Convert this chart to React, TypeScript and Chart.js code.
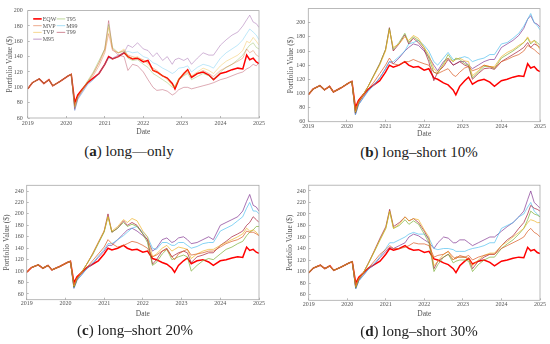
import React, { useEffect, useRef } from 'react';
import { Chart, registerables } from 'chart.js';
Chart.register(...registerables);

// ---- data ----
const DATES = [
  2019.00, 2019.12, 2019.30, 2019.42, 2019.55, 2019.65, 2019.85,
  2020.05, 2020.13, 2020.22, 2020.30, 2020.42, 2020.55, 2020.70, 2020.85,
  2021.00, 2021.10, 2021.20, 2021.35, 2021.50, 2021.60, 2021.72, 2021.85,
  2022.00, 2022.12, 2022.25, 2022.35, 2022.50, 2022.62, 2022.75, 2022.82, 2022.92,
  2023.05, 2023.15, 2023.25, 2023.40, 2023.55, 2023.70, 2023.82,
  2024.00, 2024.15, 2024.30, 2024.45, 2024.58, 2024.68, 2024.76, 2024.85, 2024.93,
  2025.00,
];
const YEAR_TICKS = [2019, 2020, 2021, 2022, 2023, 2024, 2025];
const Y_TICKS_A = [60, 80, 100, 120, 140, 160, 180, 200];
const Y_TICKS_B = [60, 80, 100, 120, 140, 160, 180, 200];
const Y_TICKS_CD = [60, 80, 100, 120, 140, 160, 180, 200, 220, 240];

const EQW = [98, 106, 111, 105, 110, 102, 108, 115, 117, 80, 90, 98, 106, 112, 118, 130, 140, 137, 140, 145, 140, 137, 138, 133, 135, 122, 120, 115, 112, 105, 98, 110, 118, 123, 113, 118, 120, 116, 110, 118, 120, 123, 125, 124, 142, 136, 138, 133, 131];

// (a) long-only
const MVP_A = [98, 106, 111, 105, 110, 102, 108, 115, 117, 76, 88, 96, 106, 115, 128, 145, 170, 148, 145, 148, 142, 140, 138, 136, 132, 125, 122, 115, 112, 104, 100, 110, 116, 120, 114, 118, 122, 118, 114, 122, 126, 130, 134, 138, 150, 145, 148, 142, 140];
const TVP_A = [98, 106, 111, 105, 110, 102, 108, 115, 117, 75, 88, 97, 107, 118, 132, 148, 178, 150, 145, 150, 140, 138, 140, 135, 130, 122, 120, 115, 110, 102, 100, 112, 118, 122, 115, 120, 125, 122, 118, 128, 134, 138, 142, 148, 160, 158, 165, 160, 155];
const M95_A = [98, 106, 111, 105, 110, 102, 108, 115, 117, 70, 85, 94, 104, 110, 118, 130, 140, 138, 142, 145, 155, 152, 158, 150, 148, 140, 145, 135, 140, 130, 136, 138, 135, 138, 130, 138, 145, 142, 142, 155, 162, 168, 172, 180, 188, 194, 185, 183, 178];
const T95_A = [98, 106, 111, 105, 110, 102, 108, 115, 117, 74, 88, 97, 108, 120, 135, 150, 182, 152, 145, 147, 138, 135, 136, 130, 126, 118, 115, 110, 106, 100, 102, 110, 115, 118, 110, 114, 118, 115, 110, 120, 126, 130, 136, 142, 150, 155, 158, 152, 150];
const M99_A = [98, 106, 111, 105, 110, 102, 108, 115, 117, 70, 84, 93, 103, 110, 118, 130, 138, 137, 140, 145, 147, 145, 146, 140, 138, 132, 130, 125, 122, 118, 120, 125, 126, 128, 120, 126, 130, 128, 125, 138, 145, 150, 155, 162, 170, 176, 172, 168, 162];
const T99_A = [98, 106, 111, 105, 110, 102, 108, 115, 117, 72, 86, 96, 106, 118, 132, 150, 187, 150, 142, 140, 122, 130, 128, 120, 110, 100, 96, 97, 95, 90, 92, 97, 100, 100, 98, 100, 102, 104, 106, 110, 112, 115, 118, 120, 124, 126, 130, 128, 132];

// (b) long-short 10%
const MVP_B = [98, 106, 111, 105, 110, 102, 108, 115, 117, 76, 88, 96, 106, 116, 128, 140, 150, 142, 140, 145, 145, 148, 145, 142, 140, 130, 128, 132, 135, 126, 124, 130, 136, 138, 132, 135, 140, 138, 136, 145, 148, 152, 155, 160, 168, 165, 162, 158, 155];
const TVP_B = [98, 106, 111, 105, 110, 102, 108, 115, 117, 74, 88, 98, 110, 125, 140, 160, 190, 165, 170, 180, 175, 182, 178, 165, 155, 135, 130, 140, 150, 145, 148, 150, 146, 145, 125, 132, 140, 138, 138, 152, 158, 162, 168, 172, 180, 172, 175, 168, 162];
const M95_B = [98, 106, 111, 105, 110, 102, 108, 115, 117, 70, 84, 94, 104, 112, 122, 135, 145, 142, 150, 160, 165, 170, 168, 160, 152, 140, 132, 145, 150, 140, 142, 145, 145, 140, 135, 140, 145, 148, 148, 165, 170, 175, 182, 192, 205, 210, 200, 198, 194];
const T95_B = [98, 106, 111, 105, 110, 102, 108, 115, 117, 73, 87, 98, 110, 126, 142, 162, 192, 162, 172, 185, 172, 180, 175, 165, 150, 130, 128, 142, 155, 145, 150, 148, 142, 140, 122, 130, 138, 138, 135, 150, 155, 160, 166, 172, 178, 170, 175, 172, 168];
const M99_B = [98, 106, 111, 105, 110, 102, 108, 115, 117, 70, 84, 93, 103, 112, 122, 135, 145, 145, 152, 160, 170, 172, 175, 168, 160, 145, 140, 150, 158, 148, 148, 150, 152, 150, 145, 148, 150, 155, 155, 170, 172, 178, 185, 195, 205, 213, 200, 196, 190];
const T99_B = [98, 106, 111, 105, 110, 102, 108, 115, 117, 72, 86, 98, 110, 126, 142, 162, 193, 160, 170, 183, 170, 178, 172, 162, 145, 118, 130, 138, 148, 140, 142, 145, 140, 138, 120, 128, 135, 136, 134, 145, 150, 155, 160, 165, 172, 165, 170, 168, 165];

// (c) long-short 20%
const MVP_C = [98, 106, 111, 105, 110, 102, 108, 115, 117, 76, 88, 96, 106, 118, 130, 142, 155, 148, 142, 145, 148, 152, 150, 145, 140, 125, 128, 135, 138, 125, 120, 130, 135, 138, 128, 130, 132, 135, 135, 142, 148, 152, 155, 160, 170, 168, 168, 165, 162];
const TVP_C = [98, 106, 111, 105, 110, 102, 108, 115, 117, 74, 88, 98, 112, 130, 150, 170, 195, 170, 178, 190, 185, 192, 188, 170, 160, 125, 130, 140, 145, 135, 138, 142, 140, 138, 122, 130, 135, 138, 138, 145, 150, 155, 160, 165, 175, 170, 172, 168, 162];
const M95_C = [98, 106, 111, 105, 110, 102, 108, 115, 117, 70, 84, 94, 104, 112, 124, 135, 145, 145, 155, 165, 172, 175, 170, 162, 155, 135, 140, 155, 158, 150, 152, 158, 160, 155, 148, 150, 155, 160, 155, 180, 185, 190, 195, 205, 222, 234, 215, 212, 205];
const T95_C = [98, 106, 111, 105, 110, 102, 108, 115, 117, 72, 86, 98, 112, 128, 148, 168, 195, 168, 175, 185, 178, 182, 178, 165, 150, 110, 115, 130, 138, 120, 122, 125, 128, 125, 100, 110, 118, 122, 120, 130, 138, 142, 148, 152, 162, 168, 172, 178, 178];
const M99_C = [98, 106, 111, 105, 110, 102, 108, 115, 117, 70, 84, 93, 104, 114, 126, 138, 148, 148, 155, 162, 168, 175, 178, 168, 160, 140, 138, 150, 150, 145, 145, 150, 150, 145, 140, 143, 148, 150, 150, 170, 175, 180, 188, 195, 210, 220, 205, 205, 200];
const T99_C = [98, 106, 111, 105, 110, 102, 108, 115, 117, 72, 86, 98, 112, 130, 150, 170, 200, 168, 175, 188, 180, 185, 180, 165, 155, 112, 120, 135, 140, 125, 128, 132, 135, 132, 115, 125, 128, 132, 132, 145, 152, 160, 165, 170, 180, 185, 195, 190, 185];

// (d) long-short 30%
const MVP_D = [98, 106, 111, 105, 110, 102, 108, 115, 117, 76, 88, 96, 106, 118, 130, 138, 145, 140, 140, 142, 145, 150, 148, 148, 145, 125, 128, 130, 135, 125, 122, 128, 125, 128, 120, 125, 128, 130, 130, 140, 145, 150, 155, 160, 170, 175, 168, 165, 160];
const TVP_D = [98, 106, 111, 105, 110, 102, 108, 115, 117, 74, 88, 98, 114, 135, 155, 175, 205, 175, 182, 195, 188, 192, 190, 172, 160, 110, 118, 130, 135, 120, 125, 125, 125, 122, 110, 120, 128, 132, 132, 145, 152, 160, 168, 175, 185, 190, 188, 185, 185];
const M95_D = [98, 106, 111, 105, 110, 102, 108, 115, 117, 70, 84, 94, 104, 112, 124, 135, 142, 140, 145, 150, 160, 165, 162, 155, 150, 140, 150, 160, 158, 150, 150, 155, 155, 150, 145, 150, 155, 160, 160, 170, 178, 185, 195, 205, 225, 240, 220, 215, 210];
const T95_D = [98, 106, 111, 105, 110, 102, 108, 115, 117, 72, 86, 98, 114, 134, 155, 175, 205, 175, 180, 190, 182, 188, 182, 165, 150, 100, 112, 125, 130, 115, 118, 120, 120, 118, 100, 112, 120, 125, 125, 140, 148, 155, 165, 175, 190, 205, 200, 198, 195];
const M99_D = [98, 106, 111, 105, 110, 102, 108, 115, 117, 70, 84, 93, 104, 114, 126, 140, 150, 150, 155, 160, 165, 168, 165, 165, 158, 140, 138, 140, 140, 138, 135, 135, 135, 138, 140, 142, 145, 150, 150, 175, 180, 185, 195, 200, 212, 220, 205, 200, 195];
const T99_D = [98, 106, 111, 105, 110, 102, 108, 115, 117, 72, 86, 98, 115, 136, 158, 178, 208, 178, 185, 195, 188, 192, 185, 170, 155, 105, 118, 125, 130, 120, 125, 125, 125, 122, 105, 118, 125, 130, 130, 145, 155, 162, 175, 185, 200, 215, 210, 208, 205];

const LEGEND_COLUMNS = [['EQW', 'MVP', 'TVP', 'M95'], ['T95', 'M99', 'T99']];
const DRAW_ORDER = ['MVP', 'TVP', 'T95', 'T99', 'M99', 'M95', 'EQW'];
const COLORS: Record<string, string> = {
  EQW: '#ff0000', MVP: '#D95319', TVP: '#EDB120', M95: '#7E2F8E',
  T95: '#77AC30', M99: '#4DBEEE', T99: '#A2142F',
};

const SERIF = 'Liberation Serif';
const TEXT = '#555555';

function rgba(hex: string, a: number) {
  const n = parseInt(hex.slice(1), 16);
  return `rgba(${(n >> 16) & 255},${(n >> 8) & 255},${n & 255},${a})`;
}

type Cfg = {
  left: number; top: number; w: number; h: number;
  pad: { left: number; top: number; right: number; bottom: number };
  yAxisW: number; xAxisH: number; yMin: number; yMax: number; yTicks: number[];
  yTitlePad: number; xTitlePad: number; yTickPad: number; xTickPad: number;
  alpha: number; legend: boolean; series: Record<string, number[]>;
};

const PANELS: Cfg[] = [
  {
    left: 0, top: 0, w: 275, h: 140, pad: { left: 0, top: 6.7, right: 16, bottom: 0 },
    yAxisW: 27.7, xAxisH: 22, yMin: 60, yMax: 200, yTicks: Y_TICKS_A,
    yTitlePad: 5.5, xTitlePad: 3.2, yTickPad: 7, xTickPad: 4, alpha: 0.45, legend: true,
    series: { EQW, MVP: MVP_A, TVP: TVP_A, M95: M95_A, T95: T95_A, M99: M99_A, T99: T99_A },
  },
  {
    left: 275, top: 0, w: 275, h: 140, pad: { left: 0, top: 5.5, right: 10, bottom: 0 },
    yAxisW: 33.3, xAxisH: 18.3, yMin: 60, yMax: 220, yTicks: Y_TICKS_B,
    yTitlePad: 11.2, xTitlePad: 1.2, yTickPad: 5, xTickPad: 3, alpha: 0.85, legend: false,
    series: { EQW, MVP: MVP_B, TVP: TVP_B, M95: M95_B, T95: T95_B, M99: M99_B, T99: T99_B },
  },
  {
    left: 0, top: 172, w: 275, h: 150, pad: { left: 0, top: 13.3, right: 16, bottom: 0 },
    yAxisW: 26.7, xAxisH: 22.3, yMin: 50, yMax: 250, yTicks: Y_TICKS_CD,
    yTitlePad: 2.8, xTitlePad: 3.8, yTickPad: 5, xTickPad: 2.5, alpha: 0.85, legend: false,
    series: { EQW, MVP: MVP_C, TVP: TVP_C, M95: M95_C, T95: T95_C, M99: M99_C, T99: T99_C },
  },
  {
    left: 275, top: 172, w: 275, h: 150, pad: { left: 0, top: 13.2, right: 10, bottom: 0 },
    yAxisW: 33.7, xAxisH: 21.7, yMin: 50, yMax: 250, yTicks: Y_TICKS_CD,
    yTitlePad: 10.5, xTitlePad: 3.8, yTickPad: 5, xTickPad: 2.5, alpha: 0.85, legend: false,
    series: { EQW, MVP: MVP_D, TVP: TVP_D, M95: M95_D, T95: T95_D, M99: M99_D, T99: T99_D },
  },
];

const CAPTIONS = [
  { letter: 'a', text: ' long\u2014only', cx: 129, cy: 151 },
  { letter: 'b', text: ' long\u2013short 10%', cx: 419, cy: 152 },
  { letter: 'c', text: ' long\u2013short 20%', cx: 135, cy: 330 },
  { letter: 'd', text: ' long\u2013short 30%', cx: 419, cy: 331 },
];

const framePlugin = {
  id: 'frame',
  afterDraw(chart: any) {
    const { ctx, chartArea: a } = chart;
    ctx.save();
    ctx.strokeStyle = '#a8a8a8';
    ctx.lineWidth = 0.8;
    ctx.strokeRect(a.left, a.top, a.right - a.left, a.bottom - a.top);
    ctx.restore();
  },
};

const legendPlugin = {
  id: 'panelLegend',
  afterDraw(chart: any) {
    const { ctx, chartArea: a } = chart;
    const byLabel: Record<string, any> = {};
    chart.data.datasets.forEach((d: any) => { byLabel[d.label] = d; });
    ctx.save();
    ctx.font = `6px "${SERIF}"`;
    ctx.textBaseline = 'middle';
    ctx.fillStyle = TEXT;
    LEGEND_COLUMNS.forEach((col, ci) => {
      const x = a.left + 5.5 + ci * 23.5;
      col.forEach((name, ri) => {
        const y = a.top + 8.3 + ri * 6.75;
        const ds = byLabel[name];
        ctx.strokeStyle = ds.borderColor;
        ctx.lineWidth = name === 'EQW' ? 1.6 : 1.1;
        ctx.beginPath();
        ctx.moveTo(x, y);
        ctx.lineTo(x + 8.5, y);
        ctx.stroke();
        ctx.fillText(name, x + 9.5, y + 0.3);
      });
    });
    ctx.restore();
  },
};

function Panel({ cfg }: { cfg: Cfg }) {
  const ref = useRef<HTMLCanvasElement>(null);
  useEffect(() => {
    const datasets = DRAW_ORDER.map((name) => ({
      label: name,
      data: DATES.map((d, i) => ({ x: d, y: cfg.series[name][i] })),
      borderColor: name === 'EQW' ? COLORS.EQW : rgba(COLORS[name], cfg.alpha),
      borderWidth: name === 'EQW' ? 1.5 : 0.8,
      pointRadius: 0,
      tension: 0,
      fill: false,
    }));
    const tickFont = { family: SERIF, size: 6 };
    const titleFont = { family: SERIF, size: 7.5 };
    const chart = new Chart(ref.current as HTMLCanvasElement, {
      type: 'line',
      data: { datasets } as any,
      options: {
        responsive: false,
        animation: false,
        events: [],
        layout: { padding: cfg.pad },
        plugins: { legend: { display: false }, tooltip: { enabled: false } },
        scales: {
          x: {
            type: 'linear', min: 2019, max: 2025,
            afterBuildTicks: (s: any) => { s.ticks = YEAR_TICKS.map((v) => ({ value: v })); },
            afterFit: (s: any) => { s.height = cfg.xAxisH; },
            ticks: { callback: (v: any) => String(v), font: tickFont, color: TEXT, padding: cfg.xTickPad, maxRotation: 0, autoSkip: false },
            grid: { drawOnChartArea: false, drawTicks: true, tickLength: -2, color: '#888', tickWidth: 0.6 },
            border: { display: false },
            title: { display: true, text: 'Date', font: titleFont, color: TEXT, padding: { top: 0, bottom: cfg.xTitlePad } },
          },
          y: {
            type: 'linear', min: cfg.yMin, max: cfg.yMax,
            afterBuildTicks: (s: any) => { s.ticks = cfg.yTicks.map((v) => ({ value: v })); },
            afterFit: (s: any) => { s.width = cfg.yAxisW; },
            ticks: { font: tickFont, color: TEXT, padding: cfg.yTickPad, autoSkip: false },
            grid: { drawOnChartArea: false, drawTicks: true, tickLength: -2, color: '#888', tickWidth: 0.6 },
            border: { display: false },
            title: { display: true, text: 'Portfolio Value ($)', font: titleFont, color: TEXT, padding: { top: cfg.yTitlePad, bottom: 0 } },
          },
        },
      } as any,
      plugins: cfg.legend ? [framePlugin, legendPlugin] : [framePlugin],
    });
    return () => chart.destroy();
  }, [cfg]);
  return (
    <canvas
      ref={ref}
      width={cfg.w}
      height={cfg.h}
      style={{ position: 'absolute', left: cfg.left, top: cfg.top, width: cfg.w, height: cfg.h }}
    />
  );
}

export default function App() {
  return (
    <div style={{ position: 'fixed', left: 0, top: 0, width: 550, height: 344, background: '#fff', overflow: 'hidden' }}>
      {PANELS.map((p, i) => <Panel key={i} cfg={p} />)}
      {CAPTIONS.map((c) => (
        <div
          key={c.letter}
          style={{
            position: 'absolute', left: c.cx - 100, top: c.cy - 10, width: 200, height: 20,
            lineHeight: '20px', textAlign: 'center', fontFamily: '"Liberation Serif", serif',
            fontSize: 15, color: '#222', whiteSpace: 'nowrap',
          }}
        >
          (<b>{c.letter}</b>){c.text}
        </div>
      ))}
    </div>
  );
}
